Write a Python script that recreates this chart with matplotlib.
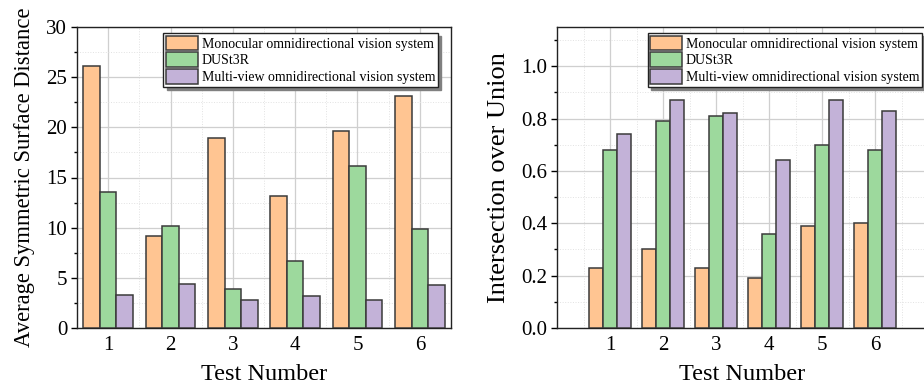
import matplotlib
matplotlib.use("Agg")
import matplotlib.pyplot as plt
from matplotlib.ticker import MultipleLocator, FormatStrFormatter
import numpy as np

plt.rcParams['font.family'] = ['Liberation Serif', 'DejaVu Serif']

# data
tests = [1, 2, 3, 4, 5, 6]
series_names = ["Monocular omnidirectional vision system", "DUSt3R",
                "Multi-view omnidirectional vision system"]
colors = ["#FFC592", "#9DD99D", "#C3B2D8"]

assd_mono = [26.1, 9.2, 18.9, 13.15, 19.6, 23.1]
assd_dust = [13.6, 10.15, 3.85, 6.7, 16.1, 9.85]
assd_multi = [3.25, 4.35, 2.8, 3.15, 2.75, 4.3]

iou_mono = [0.23, 0.30, 0.23, 0.19, 0.39, 0.40]
iou_dust = [0.68, 0.79, 0.81, 0.36, 0.70, 0.68]
iou_multi = [0.74, 0.87, 0.82, 0.64, 0.87, 0.83]

fig = plt.figure(figsize=(9.24, 3.86), dpi=100)
ax1 = fig.add_axes([77 / 924, 58 / 386, 374 / 924, 301 / 386])
ax2 = fig.add_axes([557 / 924, 58 / 386, 371 / 924, 301 / 386])

bw = 0.267
x = np.array(tests)


def draw(ax, vals, xlim, ylim, major, minor, fmt, ylabel, ysize, lpad, anchor):
    for i, v in enumerate(vals):
        ax.bar(x + (i - 1) * bw, v, width=bw, color=colors[i], edgecolor="#3a3a3a",
               linewidth=1.1, label=series_names[i], zorder=3)
    ax.set_xlim(*xlim)
    ax.set_ylim(*ylim)
    ax.set_xticks(tests)
    ax.xaxis.set_minor_locator(MultipleLocator(0.5))
    ax.yaxis.set_major_locator(MultipleLocator(major))
    ax.yaxis.set_minor_locator(MultipleLocator(minor))
    ax.yaxis.set_major_formatter(FormatStrFormatter(fmt))
    ax.grid(True, which="major", color="#cfcfcf", linewidth=0.9, zorder=0)
    ax.grid(True, which="minor", color="#e2e2e2", linewidth=0.7, linestyle=":", zorder=0)
    ax.tick_params(axis="x", which="both", length=0, labelsize=15, pad=6)
    ax.tick_params(axis="y", which="major", direction="out", length=4, width=1, labelsize=15, pad=3)
    ax.tick_params(axis="y", which="minor", direction="out", length=2.5, width=1)
    for s in ax.spines.values():
        s.set_linewidth(1.0)
        s.set_color("#222222")
    ax.set_xlabel("Test Number", fontsize=17.5, labelpad=6)
    ax.set_ylabel(ylabel, fontsize=ysize, labelpad=lpad)
    leg = ax.legend(loc="upper right", bbox_to_anchor=anchor, borderaxespad=0,
                    fontsize=10, fancybox=False, framealpha=1, edgecolor="#222222",
                    shadow={'ox': 2.5, 'oy': -2.5, 'color': '0.5', 'alpha': 1},
                    handlelength=2.3, handleheight=1.25, handletextpad=0.25,
                    labelspacing=0.12, borderpad=0.2)
    leg.get_frame().set_linewidth(1.0)


draw(ax1, [assd_mono, assd_dust, assd_multi], (0.5, 6.5), (0, 30), 5, 2.5, "%d",
     "Average Symmetric Surface Distance", 16.3, 8, (0.965, 0.98))
draw(ax2, [iou_mono, iou_dust, iou_multi], (0, 7), (0, 1.15), 0.2, 0.1, "%.1f",
     "Intersection over Union", 19, 8, (0.984, 0.98))

fig.savefig("out.png", dpi=100)
